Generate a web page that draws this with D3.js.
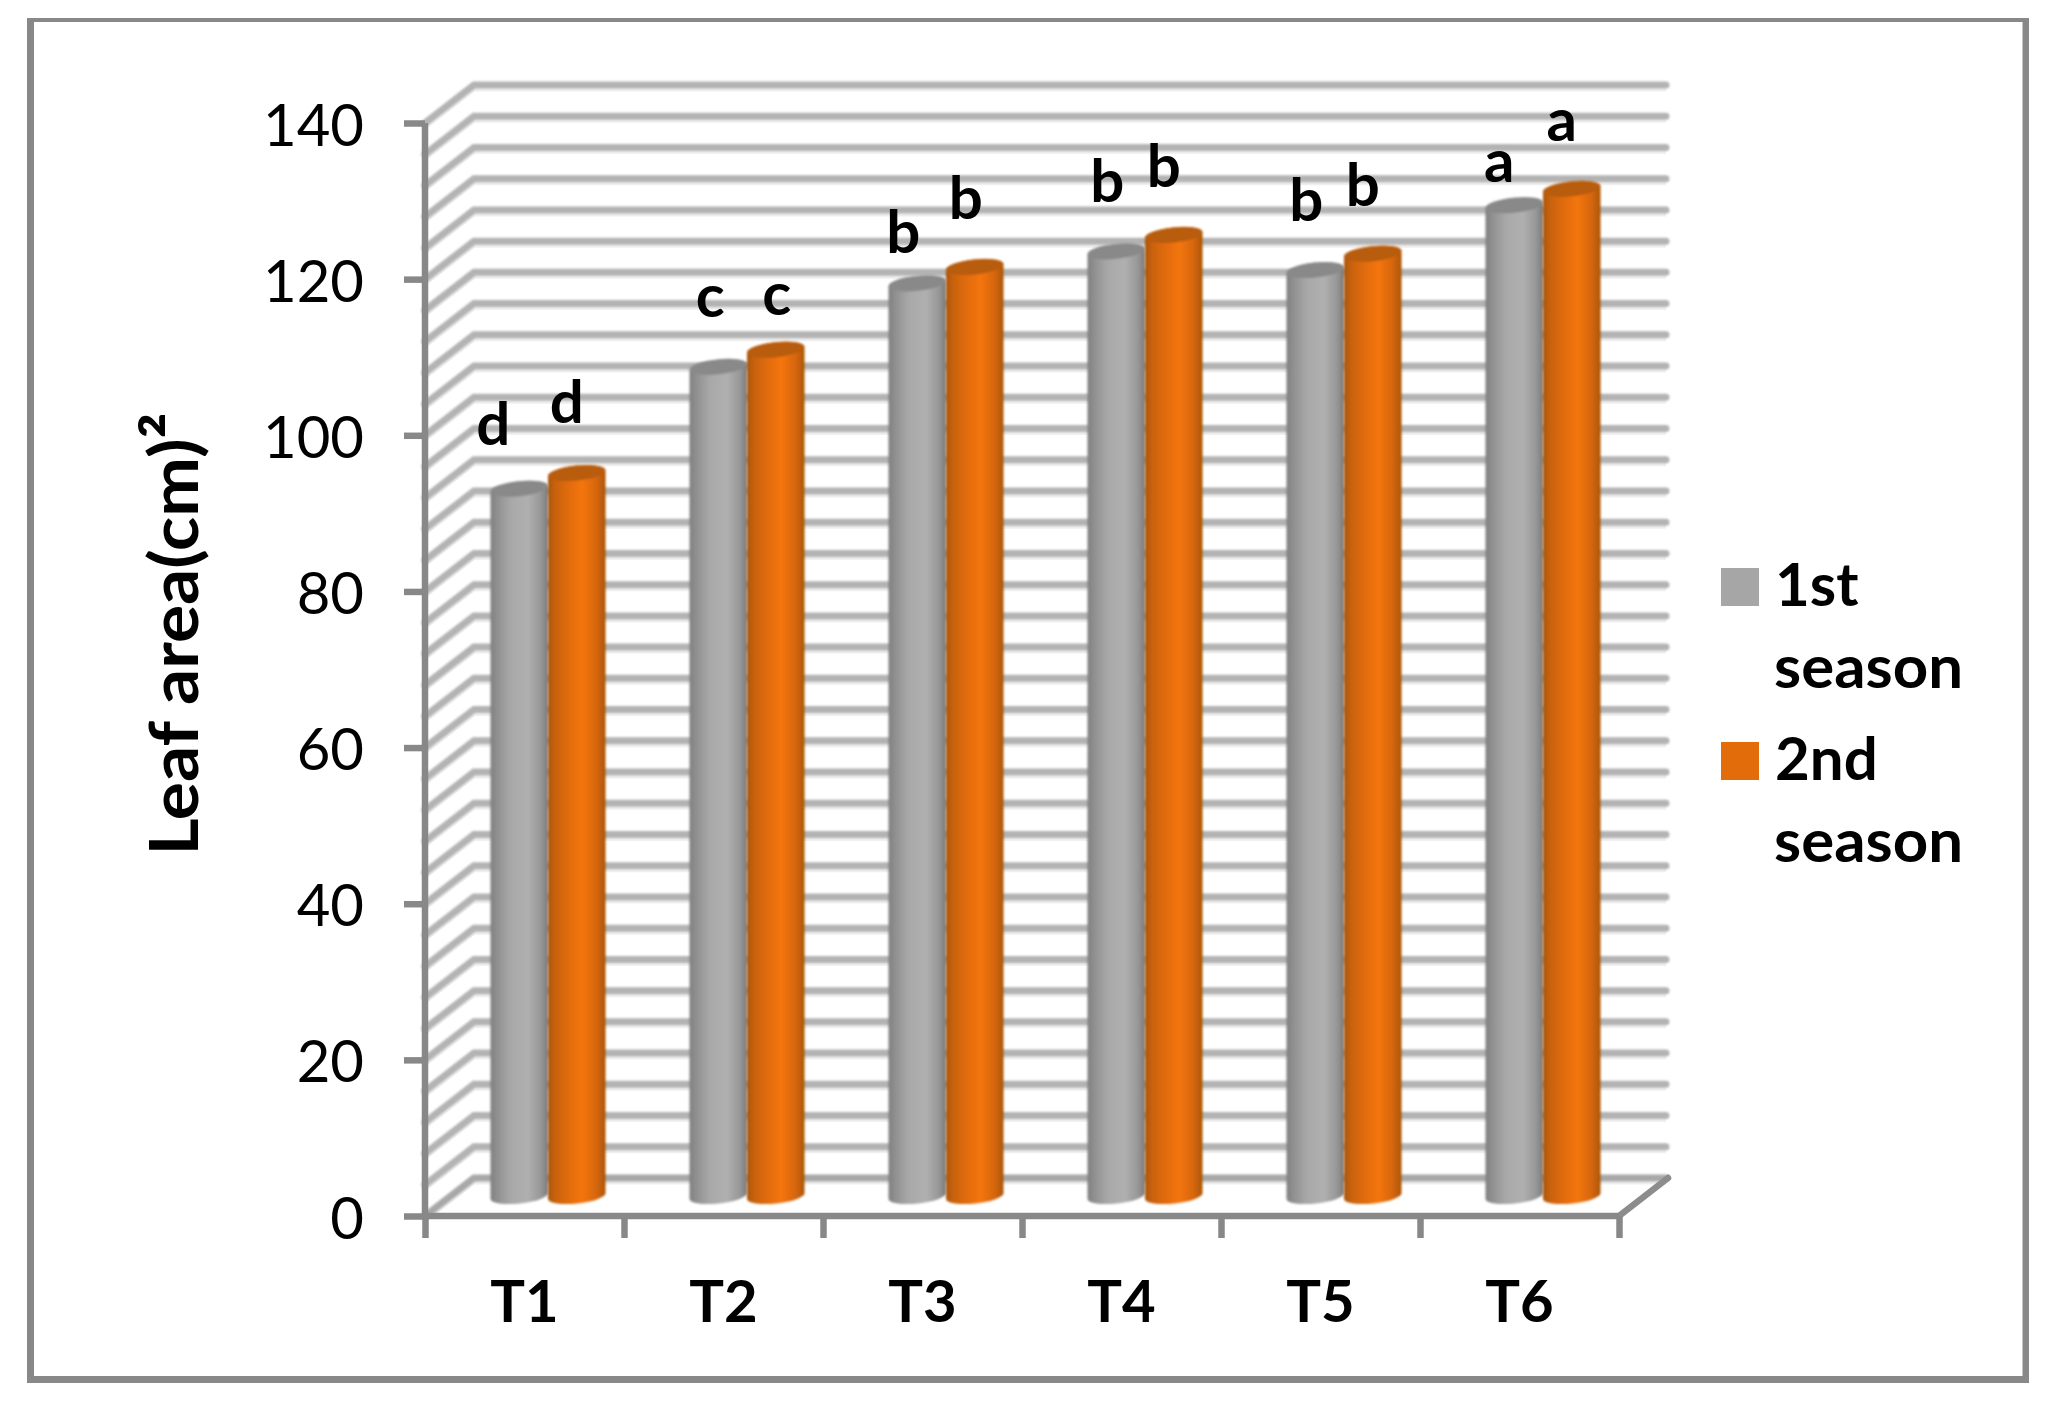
<!DOCTYPE html>
<html>
<head>
<meta charset="utf-8">
<script src="https://cdn.jsdelivr.net/npm/d3@7"></script>
<style>
body { margin: 0; background: #fff; }
text { font-family: Lato, "Open Sans", sans-serif; fill: #000; }
</style>
</head>
<body>
<svg width="2054" height="1401"></svg>
<script>
var categories = ['T1', 'T2', 'T3', 'T4', 'T5', 'T6'];
var seriesNames = ['1st season', '2nd season'];
var season1 = [90.6, 106.2, 116.9, 121, 118.6, 126.9];
var season2 = [92.6, 108.4, 119, 123.1, 120.7, 129];
var letters1 = ['d', 'c', 'b', 'b', 'b', 'a'];
var letters2 = ['d', 'c', 'b', 'b', 'b', 'a'];
var yTicks = [0, 20, 40, 60, 80, 100, 120, 140];
var gridValues = d3.range(0, 141, 4);

// the letters were placed by hand in the original, so they get their own offsets
var letterDx1 = [-26, -8, -14, -9, -9, -15];
var letterDy1 = [-44, -50, -30, -49, -49, -23];
var letterDx2 = [-10, 1, -9, -10, -10, -10];
var letterDy2 = [-50, -35, -48, -48, -48, -48];

var svg = d3.select('svg');
var defs = svg.append('defs');

var x0 = 425, x1 = 1619, y0 = 1216, y1 = 123;
var depthX = 49, depthY = 38;   // back wall offset
var barLift = 20;               // bars stand in the middle of the floor
var ry = 7.5, tilt = 6;

var y = d3.scaleLinear().domain([0, 140]).range([y0, y1]);
var x = d3.scaleBand().domain(categories).range([x0, x1]);
var xInner = d3.scaleBand().domain(seriesNames).range([65.5, 180.5]);
var xEdges = d3.scaleLinear().domain([0, 6]).range([x0, x1]);

function gradient(id, stops) {
    var g = defs.append('linearGradient').attr('id', id);
    stops.forEach(function (s) {
        g.append('stop').attr('offset', s[0]).attr('stop-color', s[1]);
    });
}
gradient('gray', [[0, '#7f7f7f'], [0.1, '#8e8e8e'], [0.35, '#a8a8a8'], [0.65, '#b0b0b0'], [0.88, '#979797'], [1, '#7a7a7a']]);
gradient('orange', [[0, '#a9560c'], [0.12, '#c8620c'], [0.4, '#e56d0c'], [0.6, '#f4750c'], [0.85, '#d5660a'], [1, '#a95505']]);
defs.append('filter').attr('id', 'soft').append('feGaussianBlur').attr('stdDeviation', 0.8);

// outer frame, the top edge is thinner than the others
svg.append('rect')
    .attr('x', 27)
    .attr('y', 18)
    .attr('width', 2002)
    .attr('height', 1365)
    .style('fill', '#888888');
svg.append('rect')
    .attr('x', 34)
    .attr('y', 22)
    .attr('width', 1988.5)
    .attr('height', 1354)
    .style('fill', 'white');

// walls: shadow line first, then the grid line
var wall = d3.line();
function wallPoints(v) {
    return [[x0, y(v)], [x0 + depthX, y(v) - depthY], [x1 + depthX - 2, y(v) - depthY]];
}
svg.append('g').selectAll('path')
    .data(gridValues)
    .join('path')
    .attr('d', function (d) { return wall(wallPoints(d)); })
    .attr('transform', 'translate(0,4.5)')
    .style('fill', 'none')
    .style('stroke', '#f0f0f0')
    .style('stroke-width', 4);
svg.append('g')
    .attr('filter', 'url(#soft)')
    .selectAll('path')
    .data(gridValues)
    .join('path')
    .attr('d', function (d) { return wall(wallPoints(d)); })
    .style('fill', 'none')
    .style('stroke', function (d) { return d == 0 ? '#a8a8a8' : '#b3b3b3'; })
    .style('stroke-width', 7)
    .style('stroke-linecap', 'round')
    .style('stroke-linejoin', 'miter');

// floor edge on the right
svg.append('line')
    .attr('x1', x1)
    .attr('y1', y0)
    .attr('x2', x1 + depthX)
    .attr('y2', y0 - depthY)
    .style('stroke', '#8c8c8c')
    .style('stroke-width', 6.5)
    .style('stroke-linecap', 'round');

// cylinders
function cylinder(left, w, top, bottom) {
    var r = w / 2;
    var t = r * Math.sin(tilt * Math.PI / 180);
    return 'M' + left + ',' + (top + t) +
        'L' + left + ',' + (bottom + t) +
        'A' + r + ',' + ry + ' ' + (-tilt) + ' 0 0 ' + (left + w) + ',' + (bottom - t) +
        'L' + (left + w) + ',' + (top - t) +
        'A' + r + ',' + ry + ' ' + (-tilt) + ' 0 0 ' + left + ',' + (top + t) + 'Z';
}
var barSeries = [
    { name: seriesNames[0], values: season1, letters: letters1, dx: letterDx1, dy: letterDy1, fill: 'url(#gray)', cap: '#898989' },
    { name: seriesNames[1], values: season2, letters: letters2, dx: letterDx2, dy: letterDy2, fill: 'url(#orange)', cap: '#b85c08' }
];

barSeries.forEach(function (s) {
    var g = svg.append('g').attr('filter', 'url(#soft)');
    var w = xInner.bandwidth();
    function left(i) { return x(categories[i]) + xInner(s.name); }
    g.selectAll('path')
        .data(s.values)
        .join('path')
        .attr('d', function (d, i) {
            return cylinder(left(i), w, y(d) - barLift, y(0) - barLift);
        })
        .style('fill', s.fill);
    g.selectAll('ellipse')
        .data(s.values)
        .join('ellipse')
        .attr('rx', w / 2)
        .attr('ry', ry)
        .attr('transform', function (d, i) {
            return 'translate(' + (left(i) + w / 2) + ',' + (y(d) - barLift) + ') rotate(' + (-tilt) + ')';
        })
        .style('fill', s.cap);
    svg.append('g').selectAll('text')
        .data(s.values)
        .join('text')
        .attr('x', function (d, i) { return left(i) + w / 2 + s.dx[i]; })
        .attr('y', function (d, i) { return y(d) - barLift + s.dy[i]; })
        .attr('text-anchor', 'middle')
        .style('font-size', '60px')
        .style('font-weight', 700)
        .text(function (d, i) { return s.letters[i]; });
});

// axes
var axisLeft = svg.append('g')
    .attr('transform', 'translate(' + x0 + ',0)')
    .call(d3.axisLeft(y).tickValues(yTicks).tickSize(21).tickPadding(40));
var xEdgeAxis = svg.append('g')
    .attr('transform', 'translate(0,' + y0 + ')')
    .call(d3.axisBottom(xEdges).ticks(6).tickSize(22).tickFormat(''));
var xLabels = svg.append('g')
    .attr('transform', 'translate(0,' + y0 + ')')
    .call(d3.axisBottom(x).tickSize(0).tickPadding(65));
xLabels.select('.domain').remove();
xEdgeAxis.select('.domain').attr('d', 'M' + x0 + ',0H' + x1);
axisLeft.select('.domain').attr('d', 'M0,' + y1 + 'V' + y0);
svg.selectAll('.domain, .tick line')
    .style('stroke', '#888888')
    .style('stroke-width', 6.5);
axisLeft.selectAll('text')
    .attr('dy', '0.38em')
    .style('font-size', '58px')
    .style('font-family', 'Lato, sans-serif')
    .style('fill', '#000');
xLabels.selectAll('text')
    .style('font-size', '58px')
    .style('font-family', 'Lato, sans-serif')
    .style('font-weight', 700)
    .style('fill', '#000');

// y axis title, the original has a larger superscript than the font's own
var yTitle = svg.append('text')
    .attr('transform', 'translate(198,634) rotate(-90)')
    .attr('text-anchor', 'middle')
    .attr('textLength', 443)
    .attr('lengthAdjust', 'spacingAndGlyphs')
    .style('font-size', '67px')
    .style('font-weight', 700)
    .text('Leaf area(cm)');
yTitle.append('tspan')
    .style('font-size', '73px')
    .text('²');

// legend
var legendSwatches = [
    { name: seriesNames[0], color: '#a6a6a6', top: 568 },
    { name: seriesNames[1], color: '#e36c0a', top: 742 }
];
legendSwatches.forEach(function (l) {
    var parts = l.name.split(' ');
    svg.append('rect')
        .attr('x', 1721)
        .attr('y', l.top)
        .attr('width', 38)
        .attr('height', 38)
        .style('fill', l.color);
    svg.append('text')
        .attr('x', 1775)
        .attr('y', l.top + 38)
        .style('font-size', '60px')
        .style('font-weight', 700)
        .text(parts[0]);
    svg.append('text')
        .attr('x', 1774)
        .attr('y', l.top + 120)
        .attr('textLength', 189)
        .attr('lengthAdjust', 'spacingAndGlyphs')
        .style('font-size', '60px')
        .style('font-weight', 700)
        .text(parts[1]);
});
</script>
</body>
</html>
